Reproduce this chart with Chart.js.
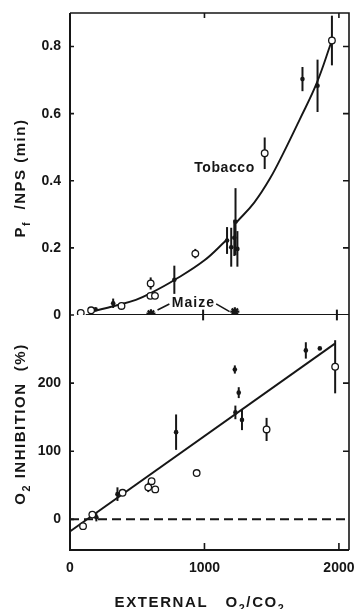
<!DOCTYPE html>
<html>
<head>
<meta charset="utf-8">
<script src="https://cdn.jsdelivr.net/npm/chart.js@4.4.0/dist/chart.umd.min.js"></script>
<style>
    html, body { margin: 0; padding: 0; background: #fff; }
</style>
</head>
<body>
<canvas id="myChart" width="357" height="609"></canvas>
<script>
// axes
const xTicks = [0, 1000, 2000];
const xTickLabels = ['0', '1000', '2000'];
const topTicks = [0, 0.2, 0.4, 0.6, 0.8];
const topTickLabels = ['0', '0.2', '0.4', '0.6', '0.8'];
const bottomTicks = [0, 100, 200];
const bottomTickLabels = ['0', '100', '200'];

// top panel: Pf/NPS, tobacco
const tobOpenX = [80, 157, 383, 600, 598, 632, 932, 1448, 1948];
const tobOpenY = [0.006, 0.014, 0.027, 0.094, 0.057, 0.057, 0.183, 0.482, 0.818];
const tobOpenErr = [0, 0, 0, 0.018, 0, 0, 0.014, 0.047, 0.074];

const tobFillX = [190, 321, 776, 1168, 1199, 1222, 1231, 1245, 1729, 1841];
const tobFillY = [0.017, 0.035, 0.105, 0.222, 0.202, 0.23, 0.278, 0.197, 0.703, 0.683];
const tobFillErr = [0, 0.014, 0.042, 0.04, 0.058, 0.054, 0.1, 0.053, 0.036, 0.078];

const tobFitX = [180, 320, 490, 600, 780, 1000, 1160, 1200, 1240, 1370, 1485, 1584, 1709, 1834, 1945];
const tobFitY = [0.012, 0.026, 0.045, 0.065, 0.105, 0.163, 0.222, null, 0.277, 0.335, 0.405, 0.48, 0.583, 0.69, 0.815];

// top panel: maize
const maizeLineX = [117, 590, 605, 618, 1208, 1225, 1243, 2075];
const maizeLineY = [0, 0, null, 0, 0, null, 0, 0];
const maizeStarX = [602, 1226];
const maizeStarY = [0.004, 0.01];
const maizeBarX = [990, 1985];
const maizeBarY = [0, 0];
const maizeBarErr = [0.016, 0.016];
const maizeLeadX = [651, 739, 745, 1087, 1187];
const maizeLeadY = [0.015, 0.033, null, 0.033, 0.01];

// bottom panel: O2 inhibition
const inhOpenX = [97, 166, 391, 582, 607, 634, 942, 1462, 1972];
const inhOpenY = [-10, 7, 39, 47, 56, 44, 68, 132, 224];
const inhOpenErr = [0, 0, 0, 7, 0, 0, 0, 17, 39];

const inhFillX = [196, 353, 789, 1226, 1255, 1230, 1279, 1754, 1858];
const inhFillY = [3, 37, 128, 220, 186, 157, 146, 248, 251];
const inhFillErr = [6, 10, 26, 6, 8, 10, 15, 12, 0];

const inhFitX = [2, 1970];
const inhFitY = [-17.5, 258];
const zeroX = [0, 2075];
const zeroY = [0, 0];

const ink = '#161616';
const family = '"Liberation Sans", Arial, sans-serif';

function pts(xs, ys) {
    return xs.map((x, i) => ({ x: x, y: ys[i] }));
}

function boldFont(size) {
    return { family: family, size: size, weight: 'bold' };
}

// error bars go under the markers so open circles cut them
const errorBars = {
    id: 'errorBars',
    beforeDatasetsDraw(chart) {
        const ctx = chart.ctx;
        chart.data.datasets.forEach((ds, i) => {
            if (!ds.errors) return;
            const xs = chart.scales.x;
            const ys = chart.scales[ds.yAxisID];
            ctx.save();
            ctx.strokeStyle = ink;
            ctx.lineWidth = 2;
            ds.data.forEach((p, j) => {
                const e = ds.errors[j];
                if (!e) return;
                const px = xs.getPixelForValue(p.x);
                ctx.beginPath();
                ctx.moveTo(px, ys.getPixelForValue(p.y - e));
                ctx.lineTo(px, ys.getPixelForValue(p.y + e));
                ctx.stroke();
            });
            ctx.restore();
        });
    }
};

// box round both panels with inward ticks
const frame = {
    id: 'frame',
    afterDraw(chart) {
        const ctx = chart.ctx;
        const a = chart.chartArea;
        const xs = chart.scales.x, yT = chart.scales.yT, yB = chart.scales.yB;
        ctx.save();
        ctx.strokeStyle = ink;
        ctx.lineWidth = 2;
        ctx.beginPath();
        ctx.moveTo(a.left, a.top); ctx.lineTo(a.left, a.bottom); ctx.lineTo(a.right, a.bottom);
        ctx.stroke();
        ctx.lineWidth = 1.6;
        ctx.beginPath();
        ctx.moveTo(a.left, a.top); ctx.lineTo(a.right, a.top); ctx.lineTo(a.right, a.bottom);
        ctx.stroke();

        ctx.lineWidth = 1.6;
        ctx.beginPath();
        topTicks.forEach(v => {
            const py = yT.getPixelForValue(v);
            ctx.moveTo(a.left, py); ctx.lineTo(a.left + 4, py);
            if (v > 0) { ctx.moveTo(a.right, py); ctx.lineTo(a.right - 6, py); }
        });
        bottomTicks.forEach(v => {
            const py = yB.getPixelForValue(v);
            ctx.moveTo(a.left, py); ctx.lineTo(a.left + 4, py);
            if (v > 0) { ctx.moveTo(a.right, py); ctx.lineTo(a.right - 6, py); }
        });
        xTicks.forEach(v => {
            if (v === 0) return;
            const px = xs.getPixelForValue(v);
            ctx.moveTo(px, a.bottom); ctx.lineTo(px, a.bottom - 7);
            ctx.moveTo(px, a.top); ctx.lineTo(px, a.top + 5);
        });
        ctx.stroke();
        ctx.restore();
    }
};

function drawRich(ctx, parts, size, spacing) {
    let total = 0;
    const widths = parts.map(p => {
        ctx.font = 'bold ' + (p.sub ? size * 0.72 : size) + 'px ' + family;
        ctx.letterSpacing = spacing + 'px';
        const w = ctx.measureText(p.t).width;
        total += w;
        return w;
    });
    let x = -total / 2;
    parts.forEach((p, i) => {
        ctx.font = 'bold ' + (p.sub ? size * 0.72 : size) + 'px ' + family;
        ctx.letterSpacing = spacing + 'px';
        ctx.fillText(p.t, x, p.sub ? size * 0.3 : 0);
        x += widths[i];
    });
}

const texts = {
    id: 'texts',
    afterDraw(chart) {
        const ctx = chart.ctx;
        const xs = chart.scales.x, yT = chart.scales.yT;
        ctx.save();
        ctx.fillStyle = ink;
        ctx.textBaseline = 'alphabetic';
        ctx.textAlign = 'left';

        ctx.save();
        ctx.translate(xs.getPixelForValue(1149), yT.getPixelForValue(0.425));
        drawRich(ctx, [{ t: 'Tobacco' }], 14, 0.6);
        ctx.restore();

        ctx.save();
        ctx.translate(xs.getPixelForValue(918), yT.getPixelForValue(0.025));
        drawRich(ctx, [{ t: 'Maize' }], 14, 1);
        ctx.restore();

        ctx.save();
        ctx.translate(200, 607);
        drawRich(ctx, [{ t: 'EXTERNAL   O' }, { t: '2', sub: true }, { t: '/CO' }, { t: '2', sub: true }], 15, 1.6);
        ctx.restore();

        ctx.save();
        ctx.translate(25, 178);
        ctx.rotate(-Math.PI / 2);
        drawRich(ctx, [{ t: 'P' }, { t: 'f', sub: true }, { t: '  /NPS (min)' }], 15, 1.5);
        ctx.restore();

        ctx.save();
        ctx.translate(25, 424);
        ctx.rotate(-Math.PI / 2);
        drawRich(ctx, [{ t: 'O' }, { t: '2', sub: true }, { t: ' INHIBITION  (%)' }], 15, 1.5);
        ctx.restore();

        ctx.restore();
    }
};

function yScale(min, max, ticks, labels, weight) {
    return {
        type: 'linear',
        position: 'left',
        stack: 'panels',
        stackWeight: weight,
        min: min,
        max: max,
        afterBuildTicks: s => { s.ticks = ticks.map(v => ({ value: v })); },
        afterFit: s => { s.width = 70; s.paddingTop = 0; s.paddingBottom = 0; },
        ticks: {
            callback: v => labels[ticks.indexOf(v)],
            font: boldFont(14),
            color: ink,
            padding: 9
        },
        grid: { display: false, drawTicks: false },
        border: { display: false }
    };
}

document.addEventListener('DOMContentLoaded', () => {
    const ctx = document.getElementById('myChart');

    const openPt = { pointStyle: 'circle', pointRadius: 3.3, pointBackgroundColor: '#fff', pointBorderColor: ink, pointBorderWidth: 1.3, showLine: false, order: 1 };
    const fillPt = { pointStyle: 'circle', pointRadius: 2.3, pointBackgroundColor: ink, pointBorderColor: ink, pointBorderWidth: 0, showLine: false, order: 1 };
    const line = { showLine: true, pointRadius: 0, borderColor: ink, borderWidth: 1.9, spanGaps: false, order: 3 };

    new Chart(ctx, {
        type: 'scatter',
        data: {
            datasets: [
                Object.assign({ label: 'Tobacco fit', data: pts(tobFitX, tobFitY), yAxisID: 'yT', tension: 0.4 }, line),
                Object.assign({ label: 'Maize', data: pts(maizeLineX, maizeLineY), yAxisID: 'yT' }, line, { borderWidth: 2 }),
                Object.assign({ label: 'Maize label', data: pts(maizeLeadX, maizeLeadY), yAxisID: 'yT' }, line, { borderWidth: 1.6 }),
                Object.assign({ label: 'Inhibition fit', data: pts(inhFitX, inhFitY), yAxisID: 'yB' }, line),
                Object.assign({ label: 'Zero', data: pts(zeroX, zeroY), yAxisID: 'yB', borderDash: [9, 5] }, line, { borderWidth: 2 }),
                Object.assign({ label: 'Tobacco open', data: pts(tobOpenX, tobOpenY), errors: tobOpenErr, yAxisID: 'yT' }, openPt),
                Object.assign({ label: 'Tobacco filled', data: pts(tobFillX, tobFillY), errors: tobFillErr, yAxisID: 'yT' }, fillPt),
                Object.assign({ label: 'Maize points', data: pts(maizeStarX, maizeStarY), yAxisID: 'yT' }, fillPt, { pointStyle: 'star', pointRadius: 4.5, pointBorderWidth: 2.2 }),
                Object.assign({ label: 'Maize bars', data: pts(maizeBarX, maizeBarY), errors: maizeBarErr, yAxisID: 'yT' }, fillPt, { pointRadius: 0 }),
                Object.assign({ label: 'Inhibition open', data: pts(inhOpenX, inhOpenY), errors: inhOpenErr, yAxisID: 'yB' }, openPt),
                Object.assign({ label: 'Inhibition filled', data: pts(inhFillX, inhFillY), errors: inhFillErr, yAxisID: 'yB' }, fillPt)
            ]
        },
        options: {
            responsive: false,
            animation: false,
            devicePixelRatio: 1,
            layout: { padding: { top: 13, right: 8, left: 0, bottom: 0 } },
            plugins: { legend: { display: false }, tooltip: { enabled: false } },
            scales: {
                x: {
                    type: 'linear',
                    position: 'bottom',
                    min: 0,
                    max: 2075,
                    afterBuildTicks: s => { s.ticks = xTicks.map(v => ({ value: v })); },
                    afterFit: s => { s.height = 59; s.paddingLeft = 0; s.paddingRight = 0; },
                    ticks: {
                        callback: v => xTickLabels[xTicks.indexOf(v)],
                        font: boldFont(14),
                        color: ink,
                        padding: 10,
                        maxRotation: 0,
                        autoSkip: false
                    },
                    grid: { display: false, drawTicks: false },
                    border: { display: false }
                },
                yB: yScale(-45, 300, bottomTicks, bottomTickLabels, 235),
                yT: yScale(0, 0.9, topTicks, topTickLabels, 302)
            }
        },
        plugins: [errorBars, frame, texts]
    });
});
</script>
</body>
</html>
